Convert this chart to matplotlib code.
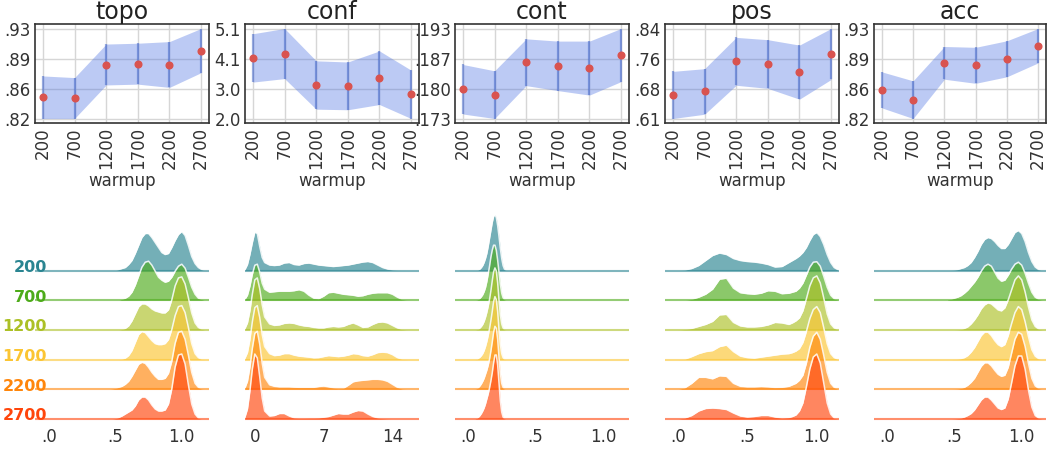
import numpy as np
import matplotlib
matplotlib.use('Agg')
import matplotlib.pyplot as plt
import matplotlib.transforms as mtransforms

# ---- top row: mean +/- std per warmup ----
warmup = [200, 700, 1200, 1700, 2200, 2700]
metrics = ['topo', 'conf', 'cont', 'pos', 'acc']

topo_mean = [0.846, 0.845, 0.886, 0.887, 0.886, 0.903]
topo_std = [0.026, 0.025, 0.025, 0.025, 0.028, 0.027]
conf_mean = [4.09, 4.24, 3.16, 3.13, 3.41, 2.84]
conf_std = [0.83, 0.86, 0.83, 0.82, 0.92, 0.83]
cont_mean = [0.1799, 0.1787, 0.1859, 0.1851, 0.1846, 0.1875]
cont_std = [0.0055, 0.0053, 0.0052, 0.0055, 0.0060, 0.0059]
pos_mean = [0.668, 0.677, 0.755, 0.748, 0.727, 0.774]
pos_std = [0.061, 0.059, 0.062, 0.063, 0.070, 0.066]
acc_mean = [0.855, 0.843, 0.888, 0.885, 0.893, 0.909]
acc_std = [0.022, 0.023, 0.020, 0.022, 0.022, 0.021]

# ---- bottom row: density curves per warmup (rows 200 .. 2700) ----
topo_x = [0.45, 0.475, 0.5, 0.525, 0.55, 0.575, 0.6, 0.625, 0.65, 0.675, 0.7, 0.725, 0.75, 0.775, 0.8,
          0.825, 0.85, 0.875, 0.9, 0.925, 0.95, 0.975, 1.0, 1.025, 1.05, 1.075, 1.1, 1.125, 1.15, 1.175]
topo_dens = [
    [0, 0, 0, 0.1, 0.2, 0.3, 0.6, 1.0, 1.7, 2.5, 3.3, 3.7, 3.7, 3.3, 2.8, 2.3, 1.8, 1.6, 1.7, 2.3, 3.0, 3.6, 3.9, 3.5, 2.5, 1.4, 0.7, 0.3, 0.1, 0],
    [0, 0, 0, 0, 0.1, 0.2, 0.4, 0.8, 1.5, 2.4, 3.3, 3.8, 3.9, 3.5, 2.9, 2.3, 2.0, 1.8, 1.9, 2.3, 2.9, 3.4, 3.6, 3.2, 2.3, 1.3, 0.6, 0.2, 0.1, 0],
    [0, 0, 0, 0, 0.05, 0.15, 0.4, 0.9, 1.6, 2.3, 2.6, 2.6, 2.4, 2.1, 1.9, 1.8, 1.7, 1.7, 2.0, 3.0, 4.4, 5.2, 5.3, 4.6, 3.2, 1.7, 0.7, 0.25, 0.08, 0],
    [0, 0, 0, 0, 0.05, 0.15, 0.4, 0.9, 1.7, 2.5, 2.8, 2.7, 2.3, 1.9, 1.6, 1.5, 1.5, 1.6, 2.0, 3.0, 4.4, 5.3, 5.4, 4.7, 3.2, 1.6, 0.6, 0.2, 0.05, 0],
    [0, 0.05, 0.1, 0.2, 0.3, 0.5, 0.8, 1.3, 1.9, 2.5, 2.7, 2.6, 2.2, 1.7, 1.3, 1.0, 1.0, 1.1, 1.6, 2.8, 4.6, 5.7, 5.8, 5.0, 3.4, 1.7, 0.6, 0.2, 0.05, 0],
    [0, 0, 0.05, 0.15, 0.3, 0.5, 0.7, 0.9, 1.3, 1.9, 2.2, 2.2, 1.9, 1.4, 1.0, 0.8, 0.8, 0.9, 1.5, 3.0, 5.2, 6.4, 6.5, 5.5, 3.4, 1.5, 0.5, 0.1, 0, 0],
]

conf_x = [-1.0, -0.75, -0.5, -0.25, 0.0, 0.25, 0.5, 0.75, 1.0, 1.5, 2.0, 2.5, 3.0, 3.5, 4.0, 4.5, 5.0, 5.5, 6.0,
          6.5, 7.0, 7.5, 8.0, 8.5, 9.0, 9.5, 10.0, 10.5, 11.0, 11.5, 12.0, 12.5, 13.0, 13.5, 14.0, 14.5, 15.0, 15.5, 16.0]
conf_dens = [
    [0.1, 0.6, 1.6, 2.8, 3.85, 3.7, 2.4, 1.3, 0.8, 0.55, 0.5, 0.55, 0.75, 0.8, 0.6, 0.55, 0.7, 0.75, 0.65,
     0.55, 0.5, 0.45, 0.4, 0.45, 0.5, 0.55, 0.65, 0.75, 0.85, 0.9, 0.8, 0.55, 0.3, 0.15, 0.07, 0.03, 0.01, 0, 0],
    [0.1, 0.5, 1.4, 2.6, 3.5, 3.6, 2.8, 1.7, 1.1, 0.8, 0.85, 0.9, 0.9, 0.9, 0.95, 1.05, 0.9, 0.5, 0.2,
     0.15, 0.4, 0.75, 0.8, 0.7, 0.6, 0.55, 0.5, 0.4, 0.45, 0.6, 0.7, 0.75, 0.75, 0.75, 0.6, 0.3, 0.08, 0.02, 0],
    [0.15, 0.7, 1.9, 3.6, 5.0, 5.2, 4.1, 2.5, 1.3, 0.6, 0.45, 0.5, 0.65, 0.7, 0.65, 0.5, 0.4, 0.35, 0.25,
     0.2, 0.2, 0.3, 0.35, 0.3, 0.35, 0.55, 0.7, 0.5, 0.25, 0.3, 0.55, 0.75, 0.8, 0.7, 0.45, 0.2, 0.05, 0, 0],
    [0.15, 0.7, 2.0, 3.8, 5.2, 5.4, 4.2, 2.5, 1.3, 0.6, 0.4, 0.45, 0.6, 0.6, 0.45, 0.35, 0.3, 0.25, 0.18,
     0.2, 0.3, 0.4, 0.35, 0.3, 0.35, 0.45, 0.6, 0.55, 0.4, 0.35, 0.5, 0.7, 0.75, 0.7, 0.5, 0.2, 0.05, 0, 0],
    [0.15, 0.8, 2.2, 4.1, 5.6, 5.8, 4.5, 2.6, 1.2, 0.45, 0.3, 0.25, 0.25, 0.25, 0.22, 0.2, 0.2, 0.2, 0.2,
     0.28, 0.33, 0.25, 0.15, 0.08, 0.1, 0.4, 0.75, 0.85, 0.9, 0.95, 1.0, 1.0, 0.95, 0.8, 0.5, 0.2, 0.05, 0, 0],
    [0.2, 1.0, 2.8, 5.0, 6.5, 6.1, 4.2, 2.1, 0.8, 0.3, 0.35, 0.55, 0.55, 0.3, 0.12, 0.08, 0.08, 0.1, 0.1,
     0.12, 0.18, 0.25, 0.4, 0.55, 0.5, 0.5, 0.7, 0.85, 0.8, 0.5, 0.25, 0.12, 0.05, 0.02, 0, 0, 0, 0, 0],
]

cont_x = [0.04, 0.05, 0.06, 0.07, 0.08, 0.09, 0.10, 0.11, 0.12, 0.13, 0.14, 0.15, 0.16, 0.17,
          0.18, 0.19, 0.20, 0.21, 0.22, 0.23, 0.24, 0.25, 0.26, 0.27, 0.28, 0.29, 0.30]
cont_dens = [
    [0, 0, 0, 0.02, 0.08, 0.15, 0.3, 0.5, 0.8, 1.2, 1.7, 2.4, 3.2, 4.0, 4.8, 5.4, 5.6, 5.3, 4.5, 3.4, 2.2, 1.2, 0.5, 0.15, 0.05, 0, 0],
    [0, 0, 0.02, 0.05, 0.1, 0.2, 0.35, 0.55, 0.85, 1.25, 1.85, 2.6, 3.4, 4.3, 5.0, 5.5, 5.5, 5.0, 4.0, 2.8, 1.6, 0.7, 0.25, 0.08, 0.02, 0, 0],
    [0, 0, 0.02, 0.05, 0.1, 0.2, 0.35, 0.55, 0.85, 1.25, 1.75, 2.35, 3.05, 3.9, 4.9, 5.8, 6.2, 5.9, 4.7, 3.0, 1.5, 0.6, 0.2, 0.05, 0, 0, 0],
    [0, 0, 0.02, 0.05, 0.15, 0.25, 0.4, 0.6, 0.9, 1.3, 1.8, 2.4, 3.1, 3.9, 4.8, 5.8, 6.3, 6.0, 4.8, 3.0, 1.5, 0.6, 0.2, 0.05, 0, 0, 0],
    [0, 0, 0.05, 0.1, 0.2, 0.35, 0.55, 0.8, 1.1, 1.5, 1.9, 2.4, 3.0, 3.8, 4.7, 5.7, 6.3, 6.1, 5.0, 3.2, 1.6, 0.6, 0.2, 0.05, 0, 0, 0],
    [0, 0, 0.05, 0.1, 0.2, 0.35, 0.55, 0.8, 1.1, 1.5, 2.0, 2.5, 3.1, 3.8, 4.6, 5.6, 6.4, 6.4, 5.4, 3.6, 1.8, 0.7, 0.2, 0.05, 0, 0, 0],
]

pos_x = [0.0, 0.05, 0.1, 0.15, 0.2, 0.25, 0.3, 0.35, 0.4, 0.45, 0.5, 0.55, 0.6, 0.65, 0.7, 0.75, 0.8,
         0.825, 0.85, 0.875, 0.9, 0.925, 0.95, 0.975, 1.0, 1.025, 1.05, 1.075, 1.1, 1.125, 1.15]
pos_dens = [
    [0, 0.05, 0.2, 0.5, 1.0, 1.5, 1.75, 1.6, 1.2, 1.0, 0.9, 0.85, 0.75, 0.6, 0.35, 0.4, 0.8,
     1.0, 1.2, 1.45, 1.8, 2.3, 3.0, 3.6, 3.8, 3.4, 2.6, 1.6, 0.8, 0.3, 0.1],
    [0, 0, 0.1, 0.3, 0.6, 1.1, 2.1, 2.2, 1.2, 0.75, 0.65, 0.6, 0.7, 0.95, 0.9, 0.65, 0.7,
     0.8, 0.9, 1.2, 1.7, 2.5, 3.3, 3.8, 3.85, 3.4, 2.4, 1.3, 0.5, 0.15, 0.05],
    [0, 0.05, 0.15, 0.35, 0.55, 0.85, 1.5, 1.55, 0.75, 0.4, 0.3, 0.3, 0.35, 0.5, 0.75, 0.7, 0.55,
     0.7, 0.9, 1.2, 1.9, 3.1, 4.4, 5.2, 5.4, 4.7, 3.2, 1.6, 0.6, 0.2, 0.05],
    [0, 0.05, 0.3, 0.6, 0.8, 0.9, 1.3, 1.45, 0.8, 0.35, 0.2, 0.15, 0.25, 0.35, 0.45, 0.55, 0.6,
     0.7, 0.85, 1.1, 1.7, 2.8, 4.1, 5.0, 5.3, 4.7, 3.2, 1.6, 0.6, 0.2, 0.05],
    [0, 0.15, 0.6, 1.2, 1.2, 1.05, 1.35, 1.3, 0.6, 0.3, 0.25, 0.25, 0.28, 0.25, 0.18, 0.2, 0.3,
     0.45, 0.6, 0.9, 1.4, 2.6, 4.2, 5.3, 5.7, 5.0, 3.4, 1.7, 0.6, 0.2, 0.05],
    [0, 0.1, 0.35, 0.8, 1.05, 1.1, 1.05, 0.95, 0.6, 0.3, 0.2, 0.25, 0.35, 0.35, 0.2, 0.1, 0.15,
     0.25, 0.4, 0.8, 1.6, 3.2, 5.0, 6.2, 6.5, 5.6, 3.6, 1.6, 0.5, 0.1, 0.02],
]

acc_x = topo_x
acc_dens = [
    [0, 0.02, 0.05, 0.1, 0.2, 0.3, 0.5, 0.8, 1.3, 1.9, 2.6, 3.1, 3.3, 3.2, 2.9, 2.5, 2.2, 2.2, 2.6, 3.2, 3.8, 4.0, 3.7, 2.9, 1.8, 0.9, 0.35, 0.1, 0.02, 0],
    [0.05, 0.1, 0.2, 0.3, 0.45, 0.7, 1.0, 1.4, 1.8, 2.3, 2.9, 3.4, 3.6, 3.4, 2.8, 2.2, 1.9, 2.0, 2.5, 3.1, 3.6, 3.8, 3.5, 2.7, 1.7, 0.8, 0.3, 0.1, 0.03, 0],
    [0, 0, 0, 0.02, 0.05, 0.15, 0.3, 0.6, 1.0, 1.5, 2.1, 2.5, 2.7, 2.6, 2.3, 2.0, 1.9, 2.2, 3.0, 4.0, 5.0, 5.4, 5.0, 3.8, 2.3, 1.0, 0.35, 0.1, 0.02, 0],
    [0, 0, 0.02, 0.05, 0.1, 0.2, 0.4, 0.75, 1.2, 1.8, 2.4, 2.75, 2.75, 2.4, 1.9, 1.5, 1.3, 1.5, 2.4, 3.6, 4.7, 5.3, 5.0, 3.8, 2.3, 1.0, 0.35, 0.1, 0.02, 0],
    [0, 0, 0.02, 0.05, 0.1, 0.2, 0.4, 0.7, 1.1, 1.7, 2.3, 2.65, 2.65, 2.35, 1.9, 1.5, 1.3, 1.4, 2.2, 3.6, 5.0, 5.7, 5.5, 4.3, 2.6, 1.1, 0.35, 0.1, 0.02, 0],
    [0, 0, 0.02, 0.05, 0.1, 0.2, 0.35, 0.55, 0.9, 1.4, 1.9, 2.2, 2.2, 1.9, 1.5, 1.1, 0.95, 1.1, 2.0, 3.6, 5.3, 6.3, 6.3, 5.0, 2.9, 1.2, 0.35, 0.1, 0.02, 0],
]

ridge_ticks = {'topo': ([0, 0.5, 1.0], ['.0', '.5', '1.0']),
               'conf': ([0, 7, 14], ['0', '7', '14']),
               'cont': ([0, 0.5, 1.0], ['.0', '.5', '1.0']),
               'pos': ([0, 0.5, 1.0], ['.0', '.5', '1.0']),
               'acc': ([0, 0.5, 1.0], ['.0', '.5', '1.0'])}
ridge_xlim = {'topo': (-0.105, 1.205), 'conf': (-1.0, 16.7), 'cont': (-0.095, 1.19),
              'pos': (-0.093, 1.16), 'acc': (-0.095, 1.18)}

stats = {'topo': (topo_mean, topo_std), 'conf': (conf_mean, conf_std), 'cont': (cont_mean, cont_std),
         'pos': (pos_mean, pos_std), 'acc': (acc_mean, acc_std)}
ridges = {'topo': (topo_x, topo_dens), 'conf': (conf_x, conf_dens), 'cont': (cont_x, cont_dens),
          'pos': (pos_x, pos_dens), 'acc': (acc_x, acc_dens)}
decimals = {'topo': 2, 'conf': 1, 'cont': 3, 'pos': 2, 'acc': 2}

row_colors = ['#2a8591', '#4dab1a', '#acc026', '#fbc533', '#ff860b', '#ff450b']

fig = plt.figure(figsize=(10.48, 4.5), dpi=100)

W, H = 1048.0, 450.0
col_left = [35, 245, 455, 665, 874]
col_w = [174, 174, 174, 174, 172]
row_gap = 2.97

for i, name in enumerate(metrics):
    # ----- top: mean / std band -----
    ax = fig.add_axes([col_left[i] / W, (H - 123) / H, col_w[i] / W, 99 / H])
    mean = np.array(stats[name][0])
    std = np.array(stats[name][1])
    lo, hi = mean - std, mean + std
    x = np.arange(len(warmup))
    ax.fill_between(x, lo, hi, color='royalblue', alpha=0.35, lw=0)
    ax.vlines(x, lo, hi, color='#3a5fc8', alpha=0.5, lw=1.6)
    ax.plot(x, mean, 'o', color='#d9534f', ms=4.8, zorder=5)

    yt = np.linspace(lo.min(), hi.max(), 4)
    ax.set_yticks(yt)
    ax.set_yticklabels([('%.*f' % (decimals[name], v)).lstrip('0') for v in yt])
    ax.set_xticks(x)
    ax.set_xticklabels([str(w) for w in warmup], rotation=90)
    ax.grid(True, color='#d6d6d6', lw=1)
    ax.set_axisbelow(True)
    for s in ax.spines.values():
        s.set_color('#333333')
        s.set_linewidth(1.2)
    ax.tick_params(length=0, labelsize=12, colors='#333333', pad=3)
    ax.set_xlabel('warmup', fontsize=12, color='#333333', labelpad=2)
    ax.set_title(name, fontsize=17, color='#222222', pad=3)

    # ----- bottom: ridge densities -----
    rx = fig.add_axes([col_left[i] / W, (H - 421) / H, col_w[i] / W, 216 / H])
    gx, dens = ridges[name]
    gx = np.array(gx)
    for j, d in enumerate(dens):
        off = (len(dens) - 1 - j) * row_gap
        d = np.array(d)
        z = 2 + j * 3
        rx.fill_between(gx, off, off + d, color=row_colors[j], alpha=0.65, lw=0, zorder=z)
        rx.plot(gx, off + d, color='white', lw=1.1, alpha=0.85, zorder=z + 1)
        rx.axhline(off, color=row_colors[j], alpha=0.6, lw=1.5, zorder=z + 2)
        if i == 0:
            tr = mtransforms.blended_transform_factory(rx.transAxes, rx.transData)
            rx.text(0.07, off - 0.15, str(warmup[j]), transform=tr, ha='right', va='baseline',
                    color=row_colors[j], fontweight='bold', fontsize=11.5, zorder=30)
    rx.set_xlim(*ridge_xlim[name])
    rx.set_ylim(-0.2, 21.4)
    rx.set_yticks([])
    rx.set_xticks(ridge_ticks[name][0])
    rx.set_xticklabels(ridge_ticks[name][1])
    rx.tick_params(length=0, labelsize=12, colors='#333333', pad=5)
    for s in rx.spines.values():
        s.set_visible(False)
    rx.patch.set_alpha(0)

fig.savefig('out.png', dpi=100)
